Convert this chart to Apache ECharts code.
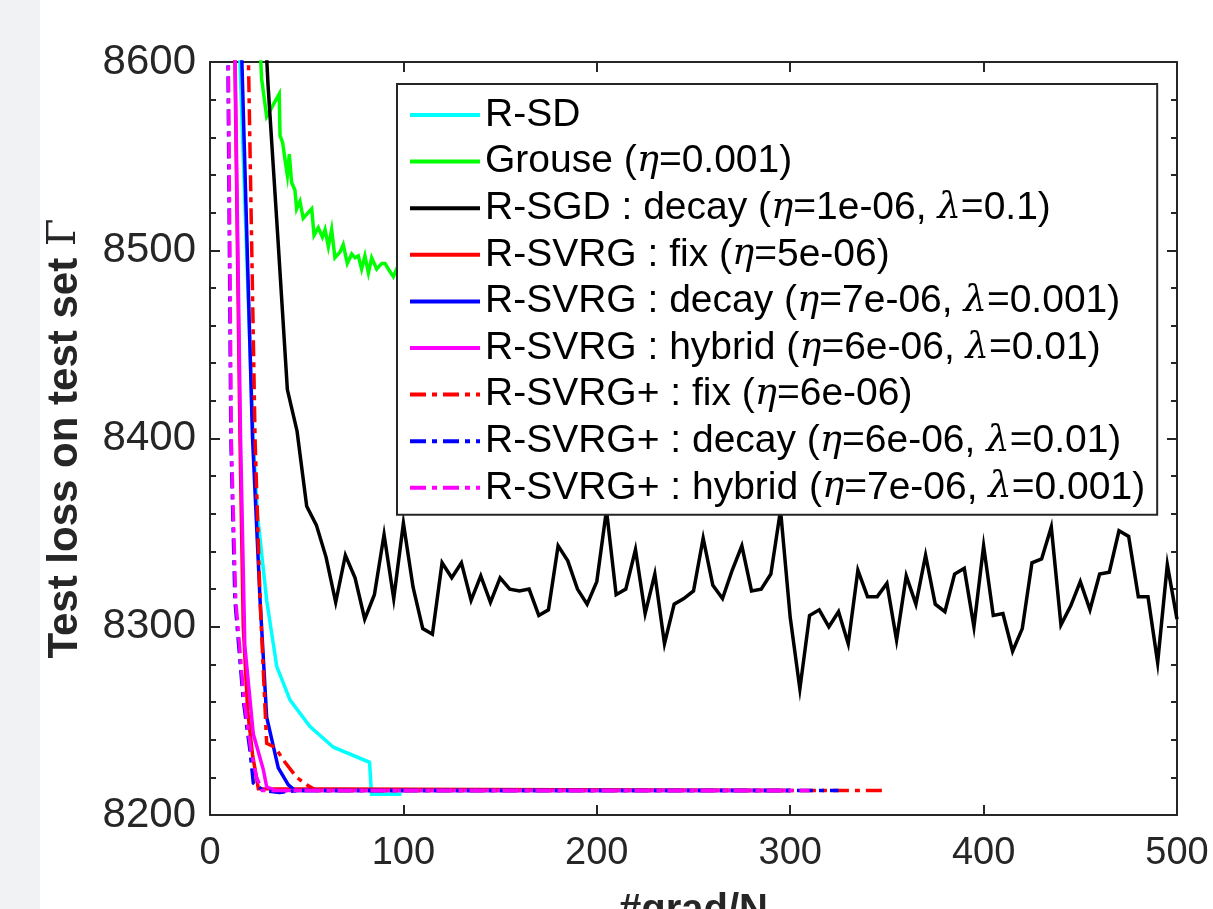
<!DOCTYPE html>
<html>
<head>
<meta charset="utf-8">
<script src="https://cdn.jsdelivr.net/npm/echarts@6/dist/echarts.min.js"></script>
<style>
  html, body { margin: 0; padding: 0; width: 1213px; height: 909px; background: #ffffff; overflow: hidden; }
  #strip { position: absolute; left: 0; top: 0; width: 40px; height: 909px; background: #f1f2f4; }
  #chart { position: absolute; left: 0; top: 0; width: 1213px; height: 909px; }
</style>
</head>
<body>
<div id="strip"></div>
<div id="chart"></div>
<script>
// ---- data ----
const xTicks = [0, 100, 200, 300, 400, 500];
const yTicks = [8200, 8300, 8400, 8500, 8600];

const names = [
  'R-SD',
  'Grouse (η=0.001)',
  'R-SGD : decay (η=1e-06, λ=0.1)',
  'R-SVRG : fix (η=5e-06)',
  'R-SVRG : decay (η=7e-06, λ=0.001)',
  'R-SVRG : hybrid (η=6e-06, λ=0.01)',
  'R-SVRG+ : fix (η=6e-06)',
  'R-SVRG+ : decay (η=6e-06, λ=0.01)',
  'R-SVRG+ : hybrid (η=7e-06, λ=0.001)'
];

// R-SD (cyan)
const sdX = [12, 15.5, 22.3, 24.5, 29.3, 34.5, 41.4, 51.7, 63.8, 82.5, 83.5, 99];
const sdY = [8680, 8600, 8400, 8360, 8314, 8279, 8261, 8247, 8236, 8228, 8211, 8211];

// Grouse (green)
const grX = [24, 26.7, 29.3, 33.6, 35.8, 36.2, 37.6, 38.8, 40.0, 41.0, 42.2, 43.9, 44.8, 46.5, 48.2, 50.8, 52.6, 53.8, 56.0, 58.1, 59.5, 61.2, 62.9, 64.6, 67.2, 68.9, 71.0, 73.3, 75.0, 76.7, 78.4, 80.1, 81.9, 83.6, 86.2, 88.8, 90.5, 92.2, 94.8, 96.5, 98.5, 100.5];
const grY = [8650, 8591, 8571, 8579, 8583, 8561, 8557, 8548, 8540, 8551, 8536, 8532, 8522, 8526, 8517, 8520, 8522, 8508, 8512, 8507, 8511, 8502, 8511, 8496, 8499, 8503, 8493, 8498, 8496, 8497, 8490, 8497, 8488, 8496, 8490, 8493, 8493, 8490, 8486, 8490, 8487, 8489];

// R-SGD decay (black)
const sgdX = [25, 30, 35, 40, 45, 50, 55, 60, 65, 70, 75, 80, 85, 90, 95, 100, 105, 110, 115, 120, 125, 130, 135, 140, 145, 150, 155, 160, 165, 170, 175, 180, 185, 190, 195, 200, 205, 210, 215, 220, 225, 230, 235, 240, 245, 250, 255, 260, 265, 270, 275, 280, 285, 290, 295, 300, 305, 310, 315, 320, 325, 330, 335, 340, 345, 350, 355, 360, 365, 370, 375, 380, 385, 390, 395, 400, 405, 410, 415, 420, 425, 430, 435, 440, 445, 450, 455, 460, 465, 470, 475, 480, 485, 490, 495, 500];
const sgdY = [8690, 8588, 8508, 8426, 8404, 8364, 8354, 8337, 8313, 8338, 8326, 8304, 8317, 8349, 8315, 8355, 8321, 8299, 8296, 8334, 8326, 8334, 8314, 8327, 8313, 8326, 8320, 8319, 8320, 8306, 8309, 8343, 8335, 8320, 8312, 8324, 8362, 8317, 8320, 8341, 8307, 8328, 8291, 8312, 8315, 8319, 8347, 8322, 8315, 8330, 8343, 8319, 8320, 8328, 8362, 8305, 8267, 8306, 8309, 8300, 8308, 8291, 8330, 8316, 8316, 8323, 8293, 8327, 8312, 8338, 8312, 8308, 8328, 8331, 8300, 8343, 8306, 8307, 8287, 8299, 8334, 8336, 8353, 8301, 8311, 8324, 8309, 8328, 8329, 8351, 8348, 8316, 8316, 8281, 8333, 8304];

// R-SVRG fix (red solid)
const svfX = [11, 12.9, 15.5, 17.2, 19.5, 22, 25, 300];
const svfY = [8680, 8600, 8400, 8300, 8255, 8232, 8214, 8213];

// R-SVRG decay (blue solid)
const svdX = [14, 16.5, 22, 25.9, 29.3, 35.3, 40.5, 44, 300];
const svdY = [8680, 8600, 8400, 8314, 8252, 8225, 8216, 8213, 8213];

// R-SVRG hybrid (magenta solid)
const svhX = [11, 13, 15.8, 18, 22.4, 27.6, 29.3, 36.2, 40, 300];
const svhY = [8680, 8600, 8400, 8290, 8243, 8224, 8215, 8212, 8213, 8213];

// R-SVRG+ fix (red dash-dot)
const spfX = [17, 19.9, 23.3, 25.9, 29.3, 33.6, 38.8, 44.8, 50, 55, 348];
const spfY = [8680, 8600, 8400, 8314, 8238, 8236, 8228, 8220, 8216, 8213, 8213];

// R-SVRG+ decay (blue dash-dot)
const spdX = [8, 9.3, 10.8, 12.9, 17.2, 20.7, 22.4, 27.6, 36, 45, 325];
const spdY = [8680, 8600, 8400, 8314, 8261, 8234, 8217, 8213, 8212, 8213, 8213];

// R-SVRG+ hybrid (magenta dash-dot)
const sphX = [8, 9.5, 11, 13.3, 17.6, 21.2, 24.1, 27, 310];
const sphY = [8680, 8600, 8400, 8314, 8261, 8234, 8220, 8213, 8213];

// ---- build ----
function pairs(xs, ys) { return xs.map((x, i) => [x, ys[i]]); }
const dashDot = [16, 6, 5, 6];
const specs = [
  [sdX, sdY, '#00ffff', 'solid'],
  [grX, grY, '#00ff00', 'solid'],
  [sgdX, sgdY, '#000000', 'solid'],
  [svfX, svfY, '#ff0000', 'solid'],
  [svdX, svdY, '#0000ff', 'solid'],
  [svhX, svhY, '#ff00ff', 'solid'],
  [spfX, spfY, '#ff0000', dashDot],
  [spdX, spdY, '#0000ff', dashDot],
  [sphX, sphY, '#ff00ff', dashDot]
];
const series = specs.map((s, i) => ({
  name: names[i],
  type: 'line',
  xAxisIndex: 0,
  yAxisIndex: 0,
  data: pairs(s[0], s[1]),
  symbol: 'none',
  showSymbol: false,
  clip: true,
  animation: false,
  color: s[2],
  lineStyle: { color: s[2], width: 3.5, type: s[3], cap: 'butt', join: 'miter' }
}));

const axisColor = '#262626';
const font = 'Liberation Sans, Arial, Helvetica, sans-serif';
const chart = echarts.init(document.getElementById('chart'), null, { renderer: 'canvas' });
chart.setOption({
  backgroundColor: 'transparent',
  animation: false,
  grid: { left: 210, right: 36, top: 62, bottom: 94, containLabel: false, outerBoundsMode: 'none' },
  xAxis: [{
    type: 'value', position: 'bottom', min: 0, max: 500, interval: 100,
    name: '#grad/N', nameLocation: 'middle', nameGap: 76, nameMoveOverlap: false,
    nameTextStyle: { fontSize: 40, fontWeight: 'bold', color: axisColor, fontFamily: font },
    axisLine: { show: true, onZero: false, lineStyle: { color: axisColor, width: 2 } },
    axisTick: { show: true, inside: true, length: 10, lineStyle: { color: axisColor, width: 2 } },
    axisLabel: { show: true, margin: 20, fontSize: 38, color: axisColor, fontFamily: font,
      formatter: v => (xTicks.indexOf(v) >= 0 ? String(v) : '') },
    splitLine: { show: false }
  }, {
    type: 'value', position: 'top', min: 0, max: 500, interval: 100,
    axisLine: { show: true, onZero: false, lineStyle: { color: axisColor, width: 2 } },
    axisTick: { show: true, inside: true, length: 10, lineStyle: { color: axisColor, width: 2 } },
    axisLabel: { show: false }, splitLine: { show: false }
  }],
  yAxis: [{
    type: 'value', position: 'left', min: 8200, max: 8600, interval: 100,
    name: 'Test loss on test set {g|Γ}', nameLocation: 'middle', nameGap: 124, nameMoveOverlap: false,
    nameTextStyle: { fontSize: 42, fontWeight: 'bold', color: axisColor, fontFamily: font,
      rich: { g: { fontFamily: 'DejaVu Serif', fontWeight: 'normal', fontSize: 40, color: axisColor } } },
    axisLine: { show: true, onZero: false, lineStyle: { color: axisColor, width: 2 } },
    axisTick: { show: true, inside: true, length: 10, lineStyle: { color: axisColor, width: 2 } },
    minorTick: { show: true, splitNumber: 5, length: 6, lineStyle: { color: axisColor, width: 2 } },
    axisLabel: { show: true, margin: 14, fontSize: 42, color: axisColor, fontFamily: font,
      formatter: v => (yTicks.indexOf(v) >= 0 ? String(v) : '') },
    splitLine: { show: false }, minorSplitLine: { show: false }
  }, {
    type: 'value', position: 'right', min: 8200, max: 8600, interval: 100,
    axisLine: { show: true, onZero: false, lineStyle: { color: axisColor, width: 2 } },
    axisTick: { show: true, inside: true, length: 10, lineStyle: { color: axisColor, width: 2 } },
    minorTick: { show: true, splitNumber: 5, length: 6, lineStyle: { color: axisColor, width: 2 } },
    axisLabel: { show: false }, splitLine: { show: false }, minorSplitLine: { show: false }
  }],
  legend: {
    show: true, orient: 'vertical', left: 397, top: 84,
    padding: [11, 12, 7, 11],
    backgroundColor: '#ffffff', borderColor: '#262626', borderWidth: 2,
    itemWidth: 70, itemHeight: 14, itemGap: 6.6,
    selectedMode: false,
    itemStyle: { opacity: 0 },
    lineStyle: { width: 4 },
    data: names,
    formatter: n => n.replace(/([ηλ])/g, '{s|$1}'),
    textStyle: {
      fontSize: 39, color: '#000000', fontFamily: font, lineHeight: 40,
      rich: { s: { fontFamily: 'DejaVu Serif', fontStyle: 'italic', fontSize: 37, color: '#000000', lineHeight: 40 } }
    }
  },
  series: series
});
</script>
</body>
</html>
